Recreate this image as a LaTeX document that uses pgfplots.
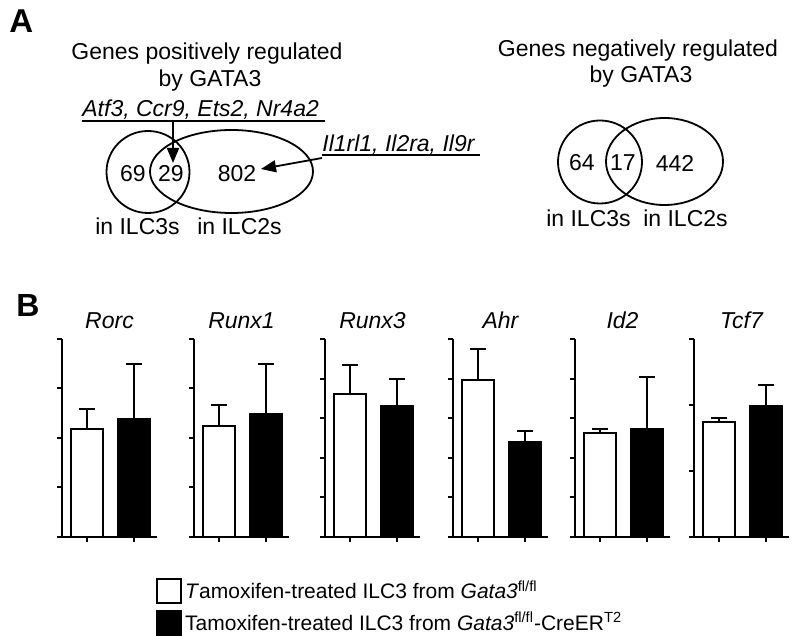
\documentclass[border=0pt]{standalone}
\usepackage{pgfplots}
\pgfplotsset{compat=1.18}
\usepackage{fontspec}
\setmainfont{Liberation Sans}
\usetikzlibrary{arrows.meta}

\pgfplotsset{
  gene/.style={
    scale only axis, width=47.5pt, height=99pt, anchor=south west,
    axis lines*=left, axis line style={line width=1pt},
    xmin=0.47, xmax=2.49, ymin=0, ymax=#1,
    xtick={1,2}, xticklabels={}, ytick distance=1, yticklabels={},
    tick align=outside, major tick length=2.5pt,
    tick style={line width=1pt, black},
    title style={at={(0.5,1)}, anchor=base, yshift=-1pt, font=\fontsize{11.5}{13}\selectfont\itshape},
    clip=false,
  },
  wbar/.style={ybar, bar width=16pt, bar shift=0pt, draw=black, fill=white, line width=1pt,
    error bars/y dir=plus, error bars/y explicit,
    error bars/error bar style={line width=1pt, black},
    error bars/error mark options={rotate=90, mark size=4pt, line width=1pt, black}},
  bbar/.style={wbar, fill=black},
}

\begin{document}
\begin{tikzpicture}
\useasboundingbox (0,0) rectangle (400pt,-318pt);

% panel B: bar charts
\begin{axis}[gene=4, at={(31pt,-268.5pt)}, title={Rorc},
  legend image code/.code={\draw[line width=0.9pt,#1] (0pt,-6pt) rectangle (12pt,6pt);},
  legend style={draw=none, fill=none, inner sep=0pt, at={(0.989,-0.202)}, anchor=north west,
    font=\fontsize{10.5}{12.5}\selectfont, row sep=2pt, nodes={inner sep=1.5pt},
    /tikz/every even column/.append style={column sep=3.5pt}},
  legend cell align=left]
\addplot[wbar] coordinates {(1,2.18) +- (0,0.41)};
\addplot[bbar] coordinates {(2,2.38) +- (0,1.11)};
\legend{\textit{T}amoxifen-treated ILC3 from \textit{Gata3}\textsuperscript{fl/fl},
        Tamoxifen-treated ILC3 from \textit{Gata3}\textsuperscript{fl/fl}-CreER\textsuperscript{T2}}
\end{axis}

\begin{axis}[gene=4, at={(97pt,-268.5pt)}, title={Runx1}]
\addplot[wbar] coordinates {(1,2.24) +- (0,0.43)};
\addplot[bbar] coordinates {(2,2.48) +- (0,1.01)};
\end{axis}

\begin{axis}[gene=5, at={(162.5pt,-268.5pt)}, title={Runx3}]
\addplot[wbar] coordinates {(1,3.62) +- (0,0.73)};
\addplot[bbar] coordinates {(2,3.32) +- (0,0.68)};
\end{axis}

\begin{axis}[gene=5, at={(226.5pt,-268.5pt)}, title={Ahr}]
\addplot[wbar] coordinates {(1,3.97) +- (0,0.79)};
\addplot[bbar] coordinates {(2,2.41) +- (0,0.27)};
\end{axis}

\begin{axis}[gene=5, at={(287.5pt,-268.5pt)}, title={Id2}]
\addplot[wbar] coordinates {(1,2.63) +- (0,0.10)};
\addplot[bbar] coordinates {(2,2.73) +- (0,1.32)};
\end{axis}

\begin{axis}[gene=3, at={(347pt,-268.5pt)}, title={Tcf7}]
\addplot[wbar] coordinates {(1,1.74) +- (0,0.06)};
\addplot[bbar] coordinates {(2,1.98) +- (0,0.32)};
\end{axis}

% panel A: Venn diagrams (pixel coordinates)
\begin{scope}[x=0.5pt, y=-0.5pt, font=\fontsize{11.5}{13.8}\selectfont]
\node[anchor=base west, inner sep=0, font=\fontsize{16.5}{18}\selectfont\bfseries] at (9,33) {A};
\node[anchor=base west, inner sep=0, font=\fontsize{16}{18}\selectfont\bfseries] at (16,317) {B};

% positively regulated
\node[anchor=base] at (207,60) {Genes positively regulated};
\node[anchor=base] at (210,87) {by GATA3};
\node[anchor=base west, inner sep=0] at (82,117) {\itshape Atf3, Ccr9, Ets2, Nr4a2};
\draw[line width=0.6pt] (82,121) -- (325,121);
\draw[line width=0.9pt] (148,172) ellipse [x radius=41.5, y radius=41];
\draw[line width=0.9pt] (231.5,171.5) ellipse [x radius=81.5, y radius=41.5];
\node at (133,174) {69};
\node at (171,174) {29};
\node at (237,174) {802};
\draw[line width=0.9pt, -{Triangle[length=7.5pt, width=6pt]}] (173,122) -- (173,163);
\node[anchor=base west, inner sep=0] at (322,152) {\itshape Il1rl1, Il2ra, Il9r};
\draw[line width=0.6pt] (322,155) -- (480,155);
\draw[line width=0.9pt, -{Triangle[length=7.5pt, width=6pt]}] (322,158) -- (261,169);
\node[anchor=base] at (137.5,235) {in ILC3s};
\node[anchor=base] at (239.5,235) {in ILC2s};

% negatively regulated
\node[anchor=base] at (638,57) {Genes negatively regulated};
\node[anchor=base] at (641,83) {by GATA3};
\draw[line width=0.9pt] (600,162) ellipse [x radius=42, y radius=41.5];
\draw[line width=0.9pt] (664.5,161.5) ellipse [x radius=58.5, y radius=43.5];
\node at (582,163) {64};
\node at (623,163) {17};
\node at (675,163) {442};
\node[anchor=base] at (588.5,227) {in ILC3s};
\node[anchor=base] at (685.5,227) {in ILC2s};
\end{scope}
\end{tikzpicture}
\end{document}
